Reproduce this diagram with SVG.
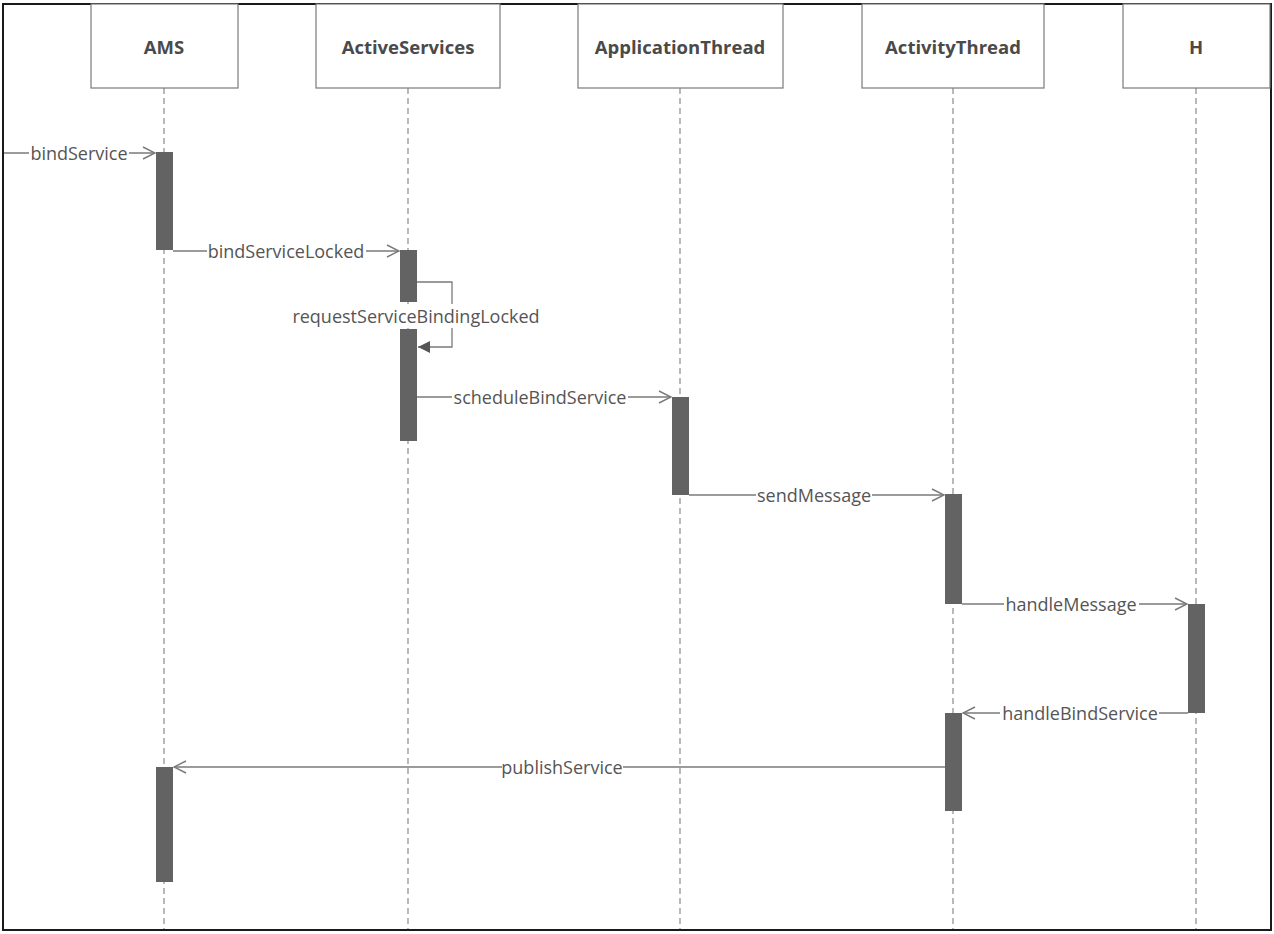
<svg xmlns="http://www.w3.org/2000/svg" width="1274" height="934" viewBox="0 0 1274 934">
  <style>
    .frame { fill: #ffffff; stroke: #1a1a1a; stroke-width: 2; }
    .head rect { fill: #ffffff; stroke: #7a7a7a; stroke-width: 1.2; }
    .head text { font-family: "Open Sans", "Noto Sans", sans-serif; font-weight: bold; font-size: 18.5px; fill: #4a4a4a; text-anchor: middle; dominant-baseline: central; }
    .life { stroke: #8a8a8a; stroke-width: 1.2; stroke-dasharray: 6 4; fill: none; }
    .bar { fill: #636363; }
    .msg { stroke: #7a7a7a; stroke-width: 1.3; fill: none; }
    .lbl { font-family: "Open Sans", "Noto Sans", sans-serif; font-size: 18px; fill: #555555; text-anchor: middle; dominant-baseline: central; }
    .lblbg { fill: #ffffff; }
  </style>
  <defs>
    <marker id="open" viewBox="0 0 14 14" refX="13" refY="7" markerWidth="14" markerHeight="14" markerUnits="userSpaceOnUse" orient="auto">
      <path d="M1,1 L13,7 L1,13" fill="none" stroke="#7a7a7a" stroke-width="1.4"/>
    </marker>
    <marker id="solid" viewBox="0 0 14 14" refX="13" refY="7" markerWidth="14" markerHeight="14" markerUnits="userSpaceOnUse" orient="auto">
      <path d="M1,1 L13,7 L1,13 Z" fill="#555555"/>
    </marker>
  </defs>

  <rect class="frame" x="3" y="4" width="1268" height="926"/>

  <!-- lifeline heads -->
  <g id="ams" class="head">
    <line class="life" x1="164" y1="88" x2="164" y2="929"/>
    <rect x="91" y="4" width="147" height="84"/>
    <text x="164" y="46">AMS</text>
  </g>
  <g id="activeServices" class="head">
    <line class="life" x1="408" y1="88" x2="408" y2="929"/>
    <rect x="316" y="4" width="184" height="84"/>
    <text x="408" y="46">ActiveServices</text>
  </g>
  <g id="applicationThread" class="head">
    <line class="life" x1="680" y1="88" x2="680" y2="929"/>
    <rect x="578" y="4" width="205" height="84"/>
    <text x="680" y="46">ApplicationThread</text>
  </g>
  <g id="activityThread" class="head">
    <line class="life" x1="953" y1="88" x2="953" y2="929"/>
    <rect x="862" y="4" width="182" height="84"/>
    <text x="953" y="46">ActivityThread</text>
  </g>
  <g id="h" class="head">
    <line class="life" x1="1196" y1="88" x2="1196" y2="929"/>
    <rect x="1123" y="4" width="147" height="84"/>
    <text x="1196" y="46">H</text>
  </g>

  <!-- activation bars -->
  <g id="activations">
    <rect class="bar" x="156" y="152" width="17" height="98"/>
    <rect class="bar" x="400" y="250" width="17" height="52"/>
    <rect class="bar" x="400" y="329" width="17" height="112"/>
    <rect class="bar" x="672" y="397" width="17" height="98"/>
    <rect class="bar" x="945" y="494" width="17" height="110"/>
    <rect class="bar" x="1188" y="604" width="17" height="109"/>
    <rect class="bar" x="945" y="713" width="17" height="98"/>
    <rect class="bar" x="156" y="767" width="17" height="115"/>
  </g>

  <!-- messages -->
  <g id="connectors">
    <line class="msg" x1="4" y1="153" x2="155" y2="153" marker-end="url(#open)"/>
    <rect class="lblbg" x="29" y="143" width="100" height="20"/>
    <text class="lbl" x="79" y="153">bindService</text>

    <line class="msg" x1="173" y1="251" x2="399" y2="251" marker-end="url(#open)"/>
    <rect class="lblbg" x="207" y="241" width="159" height="20"/>
    <text class="lbl" x="286" y="251">bindServiceLocked</text>

    <polyline class="msg" points="417,282 452,282 452,347 418,347" marker-end="url(#solid)"/>
    <rect class="lblbg" x="289" y="304" width="254" height="24"/>
    <text class="lbl" x="416" y="316">requestServiceBindingLocked</text>

    <line class="msg" x1="417" y1="397" x2="671" y2="397" marker-end="url(#open)"/>
    <rect class="lblbg" x="452" y="387" width="176" height="20"/>
    <text class="lbl" x="540" y="397">scheduleBindService</text>

    <line class="msg" x1="689" y1="495" x2="944" y2="495" marker-end="url(#open)"/>
    <rect class="lblbg" x="756" y="485" width="116" height="20"/>
    <text class="lbl" x="814" y="495">sendMessage</text>

    <line class="msg" x1="962" y1="604" x2="1187" y2="604" marker-end="url(#open)"/>
    <rect class="lblbg" x="1004" y="594" width="135" height="20"/>
    <text class="lbl" x="1071" y="604">handleMessage</text>

    <line class="msg" x1="1188" y1="713" x2="963" y2="713" marker-end="url(#open)"/>
    <rect class="lblbg" x="1000" y="703" width="159" height="20"/>
    <text class="lbl" x="1080" y="713">handleBindService</text>

    <line class="msg" x1="945" y1="767" x2="174" y2="767" marker-end="url(#open)"/>
    <rect class="lblbg" x="502" y="757" width="121" height="20"/>
    <text class="lbl" x="562" y="767">publishService</text>
  </g>
</svg>
